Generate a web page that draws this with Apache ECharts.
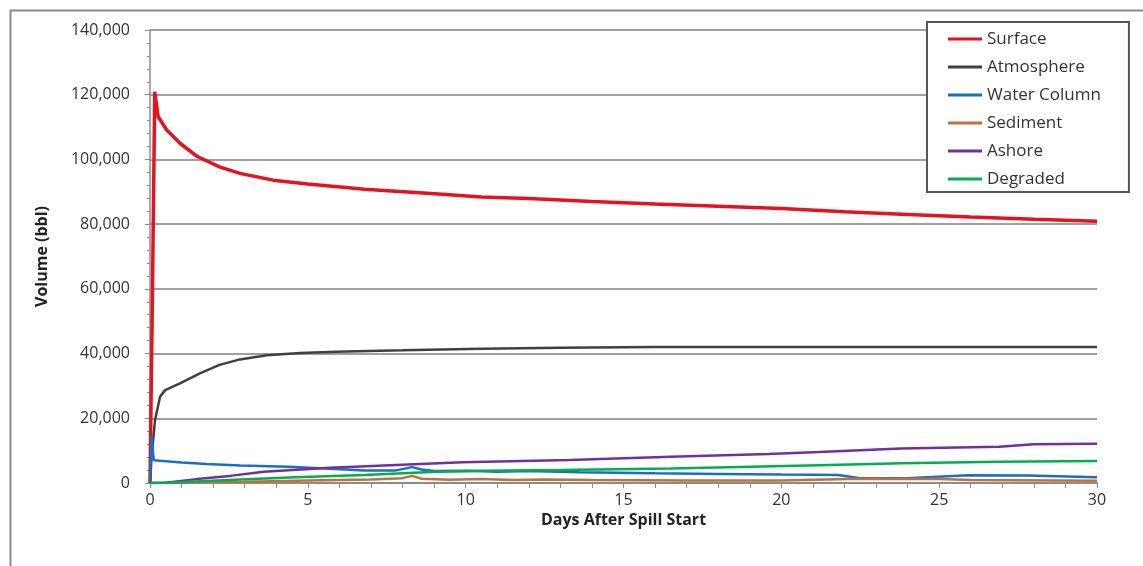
<!DOCTYPE html>
<html>
<head>
<meta charset="utf-8">
<script src="https://cdn.jsdelivr.net/npm/echarts@6/dist/echarts.min.js"></script>
<style>
html,body{margin:0;padding:0;background:#fff;}
#c{width:1143px;height:566px;}
</style>
</head>
<body>
<div id="c"></div>
<script>
// ---- data ----
const seriesNames = ['Surface', 'Atmosphere', 'Water Column', 'Sediment', 'Ashore', 'Degraded'];

const surfaceDays = [0, 0.08, 0.15, 0.26, 0.53, 0.95, 1.5, 2.2, 2.85, 3.9, 5, 6.8, 8.9, 10.5, 12, 14, 16, 18, 20, 22, 24, 26, 28, 30];
const surfaceVals = [0, 60000, 120900, 113200, 109100, 105000, 100900, 97700, 95700, 93600, 92400, 90800, 89500, 88400, 87900, 87000, 86200, 85500, 84800, 83800, 83000, 82200, 81500, 80900];

const atmosDays = [0, 0.05, 0.16, 0.32, 0.48, 0.95, 1.58, 2.2, 2.85, 3.7, 4.75, 5.9, 8, 10.5, 13, 16, 20, 25, 30];
const atmosVals = [0, 8000, 19500, 26700, 28700, 30800, 33900, 36500, 38200, 39500, 40200, 40600, 41000, 41500, 41800, 42000, 42000, 42000, 42000];

const waterDays = [0, 0.05, 0.12, 0.16, 1, 1.8, 2.85, 4.4, 5.7, 6.8, 7.8, 8.3, 8.6, 9, 10, 11, 12, 13.6, 16, 18, 20, 21.8, 22.5, 24, 25.9, 27.8, 30];
const waterVals = [0, 14300, 7000, 6700, 6300, 5900, 5400, 5000, 4400, 3900, 3900, 4900, 4200, 3700, 3800, 3500, 3700, 3300, 3000, 2800, 2600, 2500, 1500, 1500, 2400, 2300, 1800];

const sedDays = [0, 1, 3, 5, 7, 8, 8.3, 8.6, 9.5, 10.5, 11.5, 12.5, 14, 17, 20, 22.5, 25, 26, 30];
const sedVals = [0, 100, 400, 800, 1100, 1500, 2200, 1300, 1000, 1200, 900, 1100, 900, 800, 800, 1300, 1200, 900, 700];

const ashoreDays = [0, 0.42, 1.48, 2.53, 3.6, 5.7, 7.8, 9.9, 13.3, 16.5, 19.6, 21.2, 23.8, 26.9, 28, 30];
const ashoreVals = [0, 0, 1200, 2200, 3500, 4700, 5600, 6400, 7100, 8100, 9000, 9600, 10700, 11200, 12000, 12100];

const degDays = [0, 0.5, 2.5, 4.6, 6.8, 8.9, 10.5, 13, 16.5, 21.2, 23.8, 26.9, 30];
const degVals = [0, 100, 900, 1800, 2500, 3400, 3800, 4000, 4500, 5500, 6100, 6600, 6800];

const xTitle = 'Days After Spill Start';
const yTitle = 'Volume (bbl)';

// ---- chart ----
const colors = ['#e5131d', '#404040', '#1a6fc0', '#c0703c', '#7030a0', '#00b050'];
const widths = [3.5, 2.5, 2.5, 2.5, 2.5, 2.5];
const allDays = [surfaceDays, atmosDays, waterDays, sedDays, ashoreDays, degDays];
const allVals = [surfaceVals, atmosVals, waterVals, sedVals, ashoreVals, degVals];

const FONT = 'Open Sans';
const chart = echarts.init(document.getElementById('c'));
chart.setOption({
  animation: false,
  backgroundColor: '#fff',
  color: colors,
  graphic: [{
    type: 'rect', left: 8, top: 8, z: 0,
    shape: { x: 0, y: 0, width: 1300, height: 700 },
    style: { fill: 'none', stroke: '#8a8a8a', lineWidth: 2 }
  }],
  grid: { left: 150, right: 46, top: 30, bottom: 83 },
  legend: {
    orient: 'vertical', left: 927, top: 22,
    padding: [6, 28, 2, 21],
    borderColor: '#555', borderWidth: 2, backgroundColor: '#fff',
    icon: 'rect',
    itemWidth: 34, itemHeight: 3, itemGap: 6,
    textStyle: { fontFamily: FONT, fontSize: 17, color: '#333', lineHeight: 22 },
    data: seriesNames
  },
  xAxis: {
    type: 'value', min: 0, max: 30, interval: 5,
    name: xTitle, nameLocation: 'middle', nameGap: 26,
    nameTextStyle: { fontFamily: FONT, fontSize: 16, fontWeight: 'bold', color: '#222' },
    axisLine: { show: true, lineStyle: { color: '#8c8c8c', width: 2 } },
    axisTick: { show: true, length: 5, lineStyle: { color: '#8c8c8c' } },
    minorTick: { show: true, splitNumber: 5, length: 5, lineStyle: { color: '#8c8c8c' } },
    axisLabel: { fontFamily: FONT, fontSize: 16, color: '#333', margin: 9 },
    splitLine: { show: false }
  },
  yAxis: {
    type: 'value', min: 0, max: 140000, interval: 20000,
    name: yTitle, nameLocation: 'middle', nameGap: 100,
    nameTextStyle: { fontFamily: FONT, fontSize: 16, fontWeight: 'bold', color: '#222' },
    axisLine: { show: true, lineStyle: { color: '#8c8c8c', width: 1.5 } },
    axisTick: { show: true, length: 5, lineStyle: { color: '#8c8c8c' } },
    minorTick: { show: true, splitNumber: 5, length: 3, lineStyle: { color: '#8c8c8c' } },
    axisLabel: {
      fontFamily: FONT, fontSize: 16, color: '#333', margin: 20,
      formatter: v => v.toLocaleString('en-US')
    },
    splitLine: { show: true, lineStyle: { color: '#a0a0a0', width: 2 } }
  },
  series: seriesNames.map((n, k) => ({
    name: n, type: 'line', symbol: 'none',
    data: allDays[k].map((d, i) => [d, allVals[k][i]]),
    lineStyle: { color: colors[k], width: widths[k] },
    itemStyle: { color: colors[k] },
    z: 3
  }))
});
</script>
</body>
</html>
